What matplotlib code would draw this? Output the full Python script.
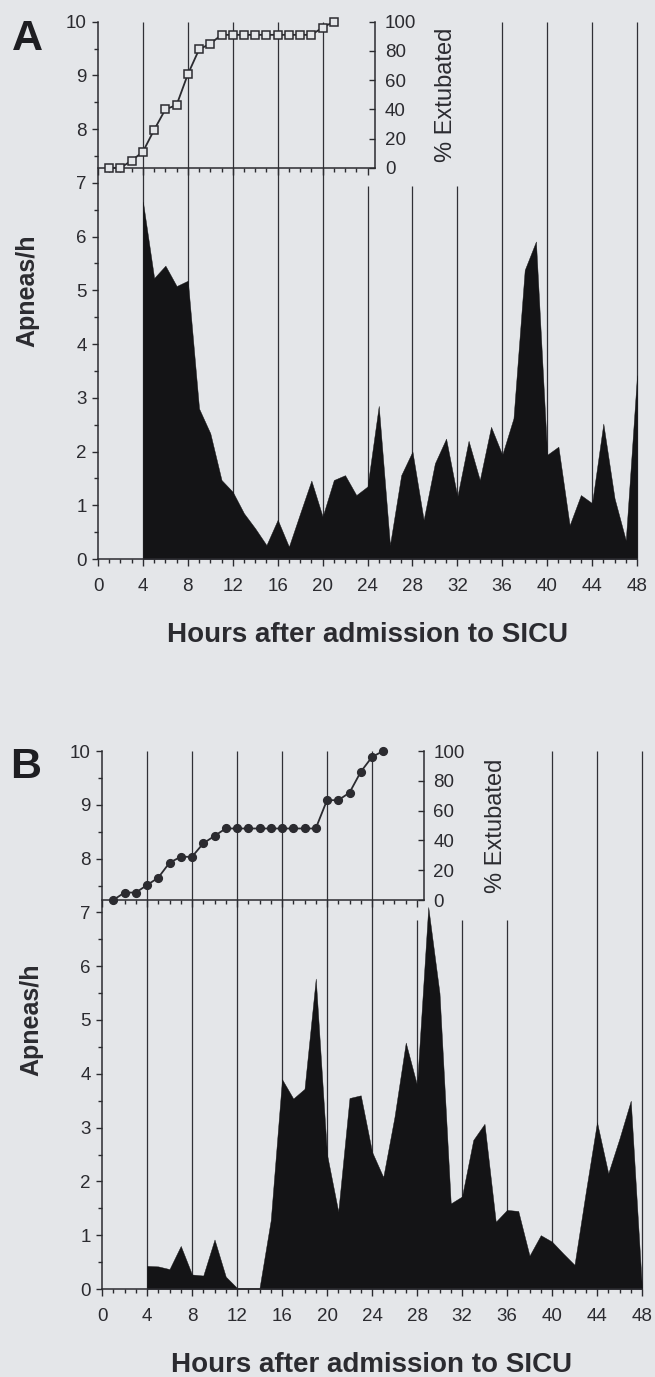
import matplotlib.pyplot as plt
from matplotlib.ticker import MultipleLocator

plt.rcParams['font.family'] = ['Liberation Sans', 'DejaVu Sans']

# apneas per hour, hours 4..48
hours = list(range(4, 49))
apnea_a = [6.65, 5.23, 5.46, 5.08, 5.18, 2.80, 2.34, 1.47, 1.25, 0.85,
           0.57, 0.26, 0.73, 0.23, 0.85, 1.46, 0.79, 1.47, 1.56, 1.19,
           1.35, 2.85, 0.26, 1.56, 2.00, 0.73, 1.78, 2.24, 1.16, 2.20,
           1.47, 2.46, 1.94, 2.62, 5.38, 5.91, 1.94, 2.09, 0.63, 1.19,
           1.04, 2.52, 1.13, 0.35, 3.42]
apnea_b = [0.43, 0.42, 0.37, 0.80, 0.27, 0.25, 0.92, 0.23, 0.02, 0.02,
           0.02, 1.28, 3.90, 3.54, 3.72, 5.77, 2.50, 1.44, 3.55, 3.60,
           2.55, 2.08, 3.20, 4.58, 3.79, 7.10, 5.50, 1.59, 1.72, 2.77,
           3.07, 1.25, 1.47, 1.45, 0.62, 1.00, 0.88, 0.66, 0.45, 1.80,
           3.10, 2.15, 2.80, 3.50, 0.00]

# cumulative % extubated (insets)
ext_hours_a = list(range(1, 22))
ext_a = [0, 0, 5, 11, 26, 40, 43, 64, 81, 85,
         91, 91, 91, 91, 91, 91, 91, 91, 91, 96, 100]
ext_hours_b = list(range(1, 26))
ext_b = [0, 5, 5, 10, 15, 25, 29, 29, 38, 43,
         48, 48, 48, 48, 48, 48, 48, 48, 48, 67, 67, 72, 86, 96, 100]

bg = '#e4e6e9'
ink = '#2b2b30'
W, H = 655, 1377

fig = plt.figure(figsize=(W / 100, H / 100), dpi=100)
fig.patch.set_facecolor(bg)


def panel(rect, apnea, ext_h, ext, marker, mfc, inset_right, inset_bottom,
          short_lines, short_top, ext_label_x, letter, letter_xy):
    ax = fig.add_axes(rect)
    ax.set_facecolor('none')
    ax.set_xlim(0, 48)
    ax.set_ylim(0, 10)

    for x in range(4, 49, 4):
        top = short_top if x in short_lines else 10
        ax.vlines(x, 0, top, color='#303036', lw=0.9, zorder=1, clip_on=False)

    ax.fill_between(hours, 0, apnea, color='#141416', lw=0.3, zorder=2)

    for s in ['top', 'right']:
        ax.spines[s].set_visible(False)
    for s in ['left', 'bottom']:
        ax.spines[s].set_color(ink)
        ax.spines[s].set_linewidth(1.1)

    ax.xaxis.set_major_locator(MultipleLocator(4))
    ax.xaxis.set_minor_locator(MultipleLocator(1))
    ax.yaxis.set_major_locator(MultipleLocator(1))
    ax.yaxis.set_minor_locator(MultipleLocator(0.5))
    ax.tick_params(axis='x', which='major', direction='out', length=5,
                   width=1, pad=9, labelsize=13.5, colors=ink)
    ax.tick_params(axis='y', which='major', direction='out', length=4.5,
                   width=1, pad=3.5, labelsize=13.5, colors=ink)
    ax.tick_params(which='minor', direction='out', length=2.8, width=1,
                   colors=ink)

    ax.set_xlabel('Hours after admission to SICU', fontsize=20,
                  fontweight='bold', color=ink)
    ax.xaxis.set_label_coords(0.5, -0.117)
    ax.set_ylabel('Apneas/h', fontsize=18, fontweight='bold', color=ink)
    ax.yaxis.set_label_coords(-0.108, 0.5)

    ins = ax.inset_axes([0, inset_bottom, inset_right, 10 - inset_bottom],
                        transform=ax.transData)
    ins.set_facecolor('none')
    ins.set_xlim(0, inset_right)
    ins.set_ylim(0, 100)
    for s in ['top', 'left']:
        ins.spines[s].set_visible(False)
    for s in ['right', 'bottom']:
        ins.spines[s].set_color(ink)
        ins.spines[s].set_linewidth(1.1)
    ins.plot(ext_h, ext, color=ink, lw=1.3, marker=marker, ms=5.5,
             mfc=mfc, mec=ink, mew=1.1, clip_on=False, zorder=3)
    ins.xaxis.set_major_locator(MultipleLocator(4))
    ins.xaxis.set_minor_locator(MultipleLocator(1))
    ins.yaxis.set_major_locator(MultipleLocator(20))
    ins.yaxis.tick_right()
    ins.tick_params(axis='x', which='major', direction='out', length=5,
                    width=1, labelbottom=False, colors=ink)
    ins.tick_params(axis='x', which='minor', direction='out', length=2.8,
                    width=1, colors=ink)
    ins.tick_params(axis='y', which='major', direction='in', length=4.5,
                    width=1, pad=7, labelsize=13.5, colors=ink)
    ax.text(ext_label_x, inset_bottom + (10 - inset_bottom) / 2,
            '% Extubated', rotation=90, ha='center', va='center',
            fontsize=17, color=ink)

    fig.text(letter_xy[0] / W, 1 - letter_xy[1] / H, letter, fontsize=31,
             fontweight='bold', ha='left', va='top', color='#1e1e22')


panel([98 / W, 1 - 559 / H, 539 / W, 537.3 / H], apnea_a, ext_hours_a, ext_a,
      's', bg, 24.7, 7.28, (24, 28, 32), 6.95, 31.0, 'A', (12, 19))
panel([102 / W, 1 - 1289 / H, 540 / W, 538 / H], apnea_b, ext_hours_b, ext_b,
      'o', ink, 28.6, 7.23, (28, 32, 36), 6.85, 35.0, 'B', (10, 747))

fig.savefig('out.png', dpi=100, facecolor=bg)
